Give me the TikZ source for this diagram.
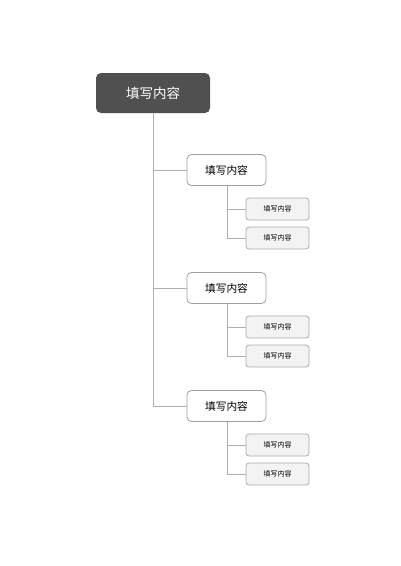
\documentclass[tikz,border=0pt]{standalone}
\usepackage{fontspec}
\newfontfamily\cjk{Noto Sans CJK SC}
\begin{document}
\begin{tikzpicture}[x=1pt,y=-1pt,
  rootbox/.style={draw=none,fill={rgb,255:red,80;green,80;blue,80},rounded corners=5pt,minimum width=114pt,minimum height=40pt,text=white,font=\cjk\fontsize{13.5}{16}\selectfont,inner sep=0pt},
  midbox/.style={draw={rgb,255:red,160;green,160;blue,160},line width=0.8pt,fill=white,rounded corners=4.5pt,minimum width=79pt,minimum height=31pt,font=\cjk\fontsize{10.7}{13}\selectfont,inner sep=0pt},
  leafbox/.style={draw={rgb,255:red,170;green,170;blue,170},line width=0.8pt,fill={rgb,255:red,243;green,243;blue,243},rounded corners=3pt,minimum width=63pt,minimum height=22pt,font=\cjk\fontsize{7}{9}\selectfont,inner sep=0pt},
  conn/.style={draw={rgb,255:red,175;green,175;blue,175},line width=0.9pt}]
\useasboundingbox (0,0) rectangle (400,566);
\node[rootbox] (root) at (153,93) {填写内容};
\foreach \i/\y in {1/170,2/288,3/406}{
  \node[midbox] (m\i) at (226.5,\y) {填写内容};
  \node[leafbox] (a\i) at (277.5,\y+39) {填写内容};
  \node[leafbox] (b\i) at (277.5,\y+68) {填写内容};
  \coordinate (s\i) at (227,\y+68);
  \draw[conn] (m\i.south -| s\i) -- (s\i) -- (b\i.west);
  \draw[conn] (a\i.west -| s\i) -- (a\i.west);
  \coordinate (j\i) at (153,\y);
  \draw[conn] (j\i) -- (m\i.west);
}
\draw[conn] (root.south) -- (j3);
\end{tikzpicture}
\end{document}
